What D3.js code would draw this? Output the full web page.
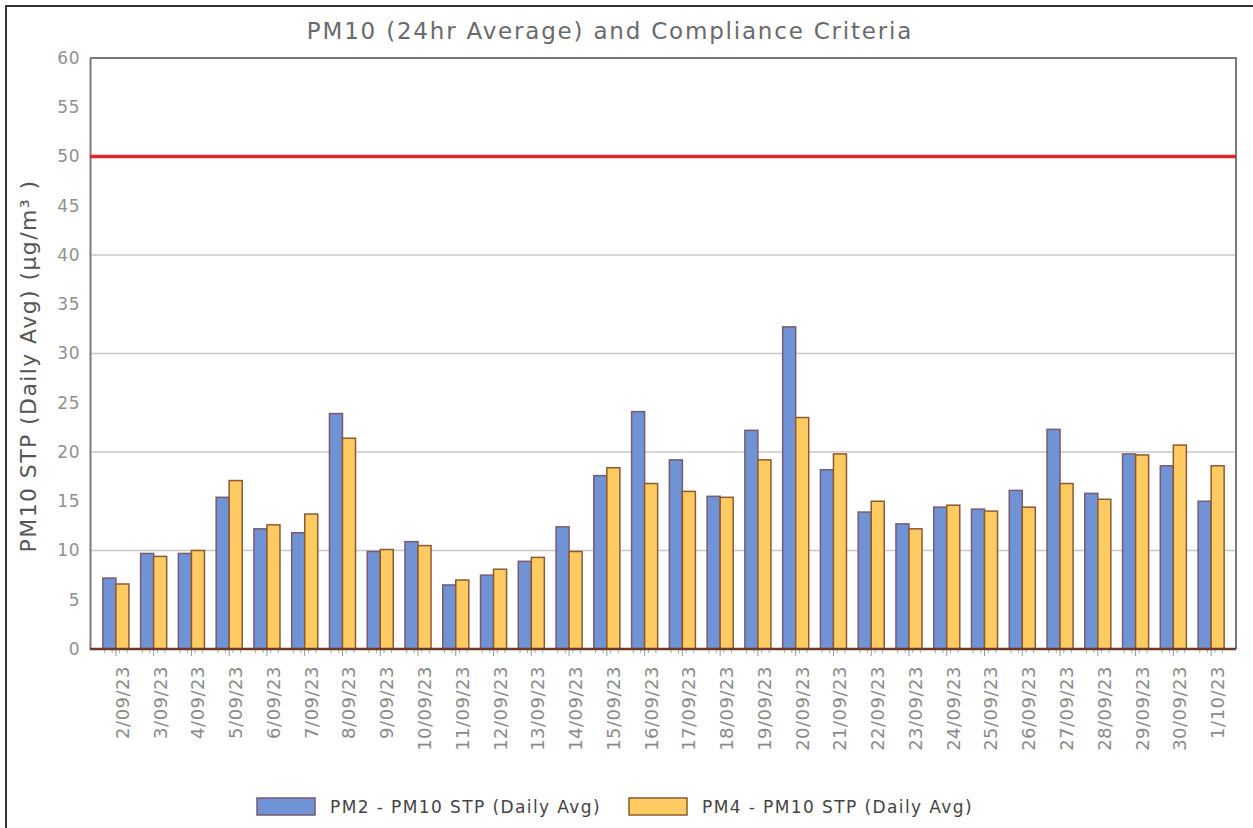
<!DOCTYPE html>
<html>
<head>
<meta charset="utf-8">
<script src="https://cdn.jsdelivr.net/npm/d3@7"></script>
<style>
  body { margin: 0; background: #fff; }
  svg { display: block; font-family: "DejaVu Sans", Verdana, sans-serif; }
</style>
</head>
<body>
<svg></svg>
<script>
const dates = ['2/09/23','3/09/23','4/09/23','5/09/23','6/09/23','7/09/23','8/09/23','9/09/23','10/09/23','11/09/23',
  '12/09/23','13/09/23','14/09/23','15/09/23','16/09/23','17/09/23','18/09/23','19/09/23','20/09/23','21/09/23',
  '22/09/23','23/09/23','24/09/23','25/09/23','26/09/23','27/09/23','28/09/23','29/09/23','30/09/23','1/10/23'];
const pm2 = [7.2, 9.7, 9.7, 15.4, 12.2, 11.8, 23.9, 9.9, 10.9, 6.5,
  7.5, 8.9, 12.4, 17.6, 24.1, 19.2, 15.5, 22.2, 32.7, 18.2,
  13.9, 12.7, 14.4, 14.2, 16.1, 22.3, 15.8, 19.8, 18.6, 15.0];
const pm4 = [6.6, 9.4, 10.0, 17.1, 12.6, 13.7, 21.4, 10.1, 10.5, 7.0,
  8.1, 9.3, 9.9, 18.4, 16.8, 16.0, 15.4, 19.2, 23.5, 19.8,
  15.0, 12.2, 14.6, 14.0, 14.4, 16.8, 15.2, 19.7, 20.7, 18.6];
const seriesNames = ['PM2 - PM10 STP (Daily Avg)', 'PM4 - PM10 STP (Daily Avg)'];
const seriesColors = ['#7093d6', '#fecb63'];
const yTicks = [0, 5, 10, 15, 20, 25, 30, 35, 40, 45, 50, 55, 60];
const gridValues = [10, 20, 30, 40];
const criteria = 50;

const width = 1253;
const height = 828;
const plotLeft = 90, plotRight = 1236, plotTop = 58, plotBottom = 649;

const svg = d3.select('svg')
  .attr('width', width)
  .attr('height', height);

// outer frame
svg.append('rect')
  .attr('x', 6).attr('y', 6)
  .attr('width', width + 10).attr('height', height + 10)
  .attr('fill', 'none')
  .attr('stroke', '#333')
  .attr('stroke-width', 2);

const x = d3.scaleBand()
  .domain(dates)
  .range([97, 1230]);

const xInner = d3.scaleBand()
  .domain([0, 1])
  .range([0, x.bandwidth()])
  .paddingInner(0)
  .paddingOuter(0.45);

const y = d3.scaleLinear()
  .domain([0, 60])
  .range([plotBottom, plotTop]);

// title
svg.append('text')
  .attr('x', 610)
  .attr('y', 39)
  .attr('text-anchor', 'middle')
  .attr('font-size', 23)
  .attr('letter-spacing', 1.8)
  .attr('fill', '#6a6a6a')
  .text('PM10 (24hr Average) and Compliance Criteria');

// gridlines
svg.append('g')
  .selectAll('line')
  .data(gridValues)
  .enter()
  .append('line')
  .attr('x1', plotLeft).attr('x2', plotRight)
  .attr('y1', d => y(d)).attr('y2', d => y(d))
  .attr('stroke', '#c8c8c8')
  .attr('stroke-width', 1.5);

// plot frame (top / right)
svg.append('path')
  .attr('d', `M${plotLeft},${plotTop}H${plotRight}V${plotBottom}`)
  .attr('fill', 'none')
  .attr('stroke', '#7a7a7a')
  .attr('stroke-width', 2);

// y axis
const yAxis = d3.axisLeft(y)
  .tickValues(yTicks)
  .tickSize(0)
  .tickPadding(10);

const yg = svg.append('g')
  .attr('transform', `translate(${plotLeft}, 0)`)
  .call(yAxis);
yg.select('.domain').attr('stroke', '#7a7a7a').attr('stroke-width', 2);
yg.selectAll('text')
  .attr('font-size', 17)
  .attr('letter-spacing', 0.5)
  .attr('fill', '#909090')
  .attr('font-family', '"DejaVu Sans", Verdana, sans-serif');

svg.append('text')
  .attr('transform', 'translate(36, 366) rotate(-90)')
  .attr('text-anchor', 'middle')
  .attr('font-size', 22)
  .attr('letter-spacing', 1.4)
  .attr('fill', '#555')
  .text('PM10 STP (Daily Avg) (μg/m³ )');

// bars
const groups = svg.append('g')
  .selectAll('g')
  .data(dates)
  .enter()
  .append('g')
  .attr('transform', d => `translate(${x(d)}, 0)`);

groups.selectAll('rect')
  .data((d, i) => [pm2[i], pm4[i]])
  .enter()
  .append('rect')
  .attr('x', (d, j) => xInner(j))
  .attr('y', d => y(d))
  .attr('width', xInner.bandwidth())
  .attr('height', d => plotBottom - y(d))
  .attr('fill', (d, j) => seriesColors[j])
  .attr('stroke', (d, j) => j === 0 ? '#7a5a6e' : '#8c5a32')
  .attr('stroke-width', 1.5);

// criteria line
svg.append('line')
  .attr('x1', plotLeft).attr('x2', plotRight)
  .attr('y1', y(criteria)).attr('y2', y(criteria))
  .attr('stroke', '#e0262a')
  .attr('stroke-width', 3.5);

// x axis minor ticks
const minor = [];
dates.forEach(d => {
  for (let k = 1; k < 5; k++) minor.push(x(d) + x.bandwidth() * k / 5);
});
svg.append('g')
  .selectAll('line')
  .data(minor)
  .enter()
  .append('line')
  .attr('x1', d => d).attr('x2', d => d)
  .attr('y1', plotBottom).attr('y2', plotBottom + 4)
  .attr('stroke', '#aaa')
  .attr('stroke-width', 1);

// x axis
const xAxis = d3.axisBottom(x)
  .tickSize(7)
  .tickPadding(6);

const xg = svg.append('g')
  .attr('transform', `translate(0, ${plotBottom})`)
  .call(xAxis);
xg.select('.domain').remove();
xg.selectAll('.tick line').attr('stroke', '#999');
xg.selectAll('text')
  .attr('font-size', 18)
  .attr('letter-spacing', 0.5)
  .attr('fill', '#8a8a8a')
  .attr('font-family', '"DejaVu Sans", Verdana, sans-serif')
  .attr('text-anchor', 'end')
  .attr('transform', 'rotate(-90)')
  .attr('x', -17)
  .attr('y', 0)
  .attr('dy', '0.72em')
  .attr('dx', 0);

svg.append('line')
  .attr('x1', plotLeft).attr('x2', plotRight)
  .attr('y1', plotBottom).attr('y2', plotBottom)
  .attr('stroke', '#6b3a22')
  .attr('stroke-width', 2.5);

// legend
const legend = svg.append('g')
  .attr('transform', 'translate(257, 798)');
const legendX = [0, 372];
seriesNames.forEach((name, i) => {
  legend.append('rect')
    .attr('x', legendX[i])
    .attr('y', 0)
    .attr('width', 58)
    .attr('height', 17)
    .attr('fill', seriesColors[i])
    .attr('stroke', i === 0 ? '#7a5a6e' : '#8c5a32')
    .attr('stroke-width', 1.5);
  legend.append('text')
    .attr('x', legendX[i] + 73)
    .attr('y', 15)
    .attr('font-size', 17)
    .attr('letter-spacing', 1.4)
    .attr('fill', '#444')
    .text(name);
});
</script>
</body>
</html>
